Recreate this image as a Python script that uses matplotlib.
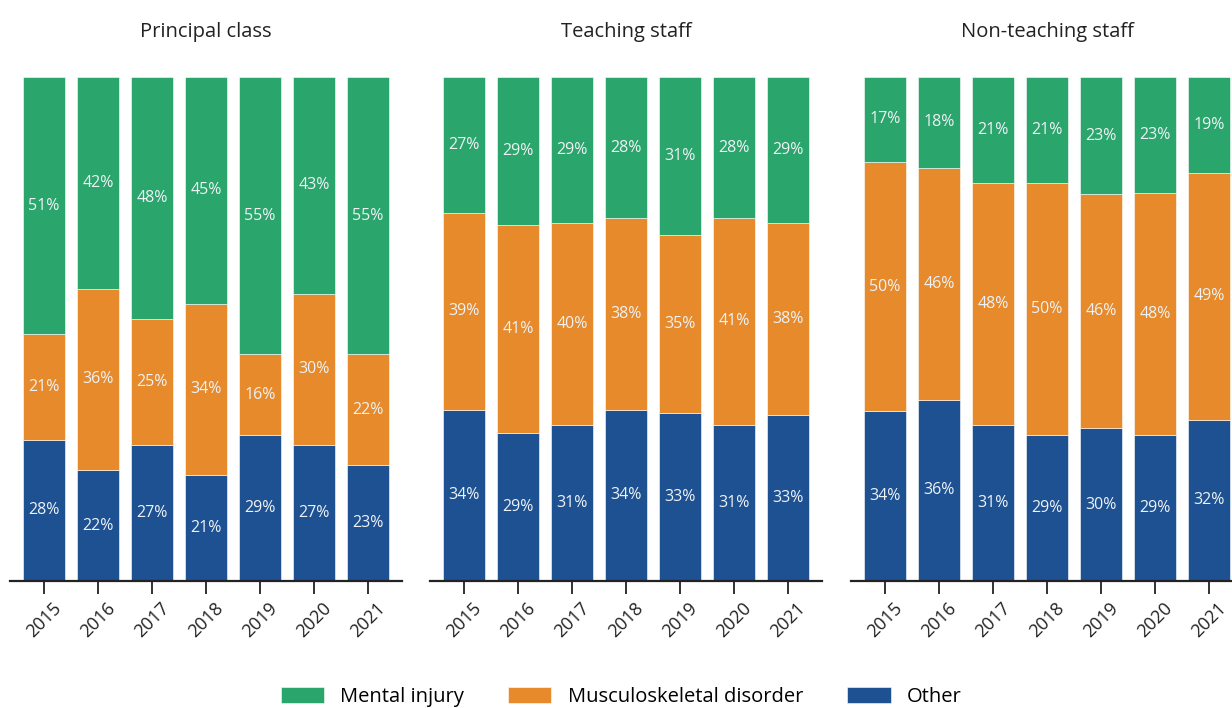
import matplotlib.pyplot as plt
import numpy as np

plt.rcParams['font.family'] = ['Open Sans', 'DejaVu Sans']

# Data (percent shares)
years = ["2015", "2016", "2017", "2018", "2019", "2020", "2021"]
panels = ["Principal class", "Teaching staff", "Non-teaching staff"]
series = ["Mental injury", "Musculoskeletal disorder", "Other"]

other = [
    [28, 22, 27, 21, 29, 27, 23],
    [34, 29, 31, 34, 33, 31, 33],
    [34, 36, 31, 29, 30, 29, 32],
]
musculo = [
    [21, 36, 25, 34, 16, 30, 22],
    [39, 41, 40, 38, 35, 41, 38],
    [50, 46, 48, 50, 46, 48, 49],
]
mental = [
    [51, 42, 48, 45, 55, 43, 55],
    [27, 29, 29, 28, 31, 28, 29],
    [17, 18, 21, 21, 23, 23, 19],
]

colors = {"Mental injury": "#2aa56b", "Musculoskeletal disorder": "#e68a2b", "Other": "#1d5192"}

fig = plt.figure(figsize=(12.32, 7.08), dpi=100)

W, H = 1232, 708
lefts = [10, 430, 851]
ax_w = 392
ax_bottom = 581
ax_top = 77

x = np.arange(len(years))
handles = []
for i, title in enumerate(panels):
    ax = fig.add_axes([lefts[i] / W, 1 - ax_bottom / H, ax_w / W, (ax_bottom - ax_top) / H])
    o = np.array(other[i], dtype=float)
    m = np.array(musculo[i], dtype=float)
    g = np.array(mental[i], dtype=float)
    total = o + m + g
    # stack scaled to 100% so every bar fills the column
    o_h = o / total * 100
    m_h = m / total * 100
    g_h = g / total * 100
    b1 = ax.bar(x, o_h, width=0.76, color=colors["Other"], edgecolor="white", linewidth=0.4)
    b2 = ax.bar(x, m_h, width=0.76, bottom=o_h, color=colors["Musculoskeletal disorder"], edgecolor="white", linewidth=0.4)
    b3 = ax.bar(x, g_h, width=0.76, bottom=o_h + m_h, color=colors["Mental injury"], edgecolor="white", linewidth=0.4)
    if i == 0:
        handles = [b3, b2, b1]
    for vals, heights, bottoms in [(o, o_h, 0), (m, m_h, o_h), (g, g_h, o_h + m_h)]:
        for xi, v, hgt, bt in zip(x, vals, heights, np.broadcast_to(bottoms, heights.shape)):
            ax.text(xi, bt + hgt / 2, f"{int(v)}%", ha="center", va="center",
                    color="#eef2f6", fontsize=11.5)

    ax.set_xlim(-0.63, 6.63)
    ax.set_ylim(0, 100)
    ax.set_title(title, fontsize=14.5, color="#222222", pad=29)
    ax.set_xticks(x)
    ax.set_xticklabels(years, rotation=45, ha="center", va="top", fontsize=13, color="#222222")
    ax.tick_params(axis="x", length=9, width=1.3, color="#222222", pad=4)
    ax.set_yticks([])
    for s in ["top", "right", "left"]:
        ax.spines[s].set_visible(False)
    ax.spines["bottom"].set_linewidth(1.6)
    ax.spines["bottom"].set_color("#222222")

fig.legend(handles, series, loc="center", bbox_to_anchor=(621 / W, 1 - 697 / H), ncol=3,
           frameon=False, fontsize=14.5, handlelength=2.15, handleheight=0.85,
           columnspacing=2.2, handletextpad=0.8)

fig.savefig("out.png", dpi=100)
